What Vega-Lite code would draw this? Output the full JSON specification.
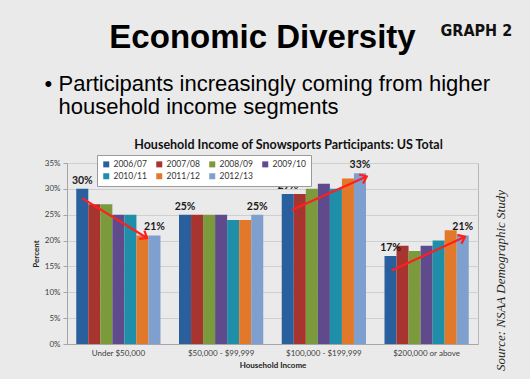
{
  "$schema": "https://vega.github.io/schema/vega-lite/v6.json",
  "width": 411,
  "height": 181,
  "autosize": {"type": "none"},
  "padding": {"left": 67, "top": 163, "right": 52, "bottom": 35},
  "background": "#eaeaea",
  "config": {"view": {"stroke": "#b8b8b8", "strokeWidth": 1}, "font": "Lato"},
  "datasets": {
    "income": [
      {"income": "Under $50,000", "year": "2006/07", "pct": 30},
      {"income": "Under $50,000", "year": "2007/08", "pct": 27},
      {"income": "Under $50,000", "year": "2008/09", "pct": 27},
      {"income": "Under $50,000", "year": "2009/10", "pct": 25},
      {"income": "Under $50,000", "year": "2010/11", "pct": 25},
      {"income": "Under $50,000", "year": "2011/12", "pct": 21},
      {"income": "Under $50,000", "year": "2012/13", "pct": 21},
      {"income": "$50,000 - $99,999", "year": "2006/07", "pct": 25},
      {"income": "$50,000 - $99,999", "year": "2007/08", "pct": 25},
      {"income": "$50,000 - $99,999", "year": "2008/09", "pct": 25},
      {"income": "$50,000 - $99,999", "year": "2009/10", "pct": 25},
      {"income": "$50,000 - $99,999", "year": "2010/11", "pct": 24},
      {"income": "$50,000 - $99,999", "year": "2011/12", "pct": 24},
      {"income": "$50,000 - $99,999", "year": "2012/13", "pct": 25},
      {"income": "$100,000 - $199,999", "year": "2006/07", "pct": 29},
      {"income": "$100,000 - $199,999", "year": "2007/08", "pct": 29},
      {"income": "$100,000 - $199,999", "year": "2008/09", "pct": 30},
      {"income": "$100,000 - $199,999", "year": "2009/10", "pct": 31},
      {"income": "$100,000 - $199,999", "year": "2010/11", "pct": 30},
      {"income": "$100,000 - $199,999", "year": "2011/12", "pct": 32},
      {"income": "$100,000 - $199,999", "year": "2012/13", "pct": 33},
      {"income": "$200,000 or above", "year": "2006/07", "pct": 17},
      {"income": "$200,000 or above", "year": "2007/08", "pct": 19},
      {"income": "$200,000 or above", "year": "2008/09", "pct": 18},
      {"income": "$200,000 or above", "year": "2009/10", "pct": 19},
      {"income": "$200,000 or above", "year": "2010/11", "pct": 20},
      {"income": "$200,000 or above", "year": "2011/12", "pct": 22},
      {"income": "$200,000 or above", "year": "2012/13", "pct": 21}
    ],
    "labels": [
      {"income": "Under $50,000", "year": "2006/07", "pct": 30, "label": "30%"},
      {"income": "Under $50,000", "year": "2012/13", "pct": 21, "label": "21%"},
      {"income": "$50,000 - $99,999", "year": "2006/07", "pct": 25, "label": "25%"},
      {"income": "$50,000 - $99,999", "year": "2012/13", "pct": 25, "label": "25%"},
      {"income": "$100,000 - $199,999", "year": "2006/07", "pct": 29, "label": "29%"},
      {"income": "$100,000 - $199,999", "year": "2012/13", "pct": 33, "label": "33%"},
      {"income": "$200,000 or above", "year": "2006/07", "pct": 17, "label": "17%"},
      {"income": "$200,000 or above", "year": "2012/13", "pct": 21, "label": "21%"}
    ],
    "arrows": [
      {"x": 0.146, "y": 28.2, "x2": 0.779, "y2": 20.5, "heading": 121.6},
      {"x": 2.187, "y": 25.9, "x2": 2.917, "y2": 32.4, "heading": 66},
      {"x": 3.16, "y": 14.2, "x2": 3.873, "y2": 20.75, "heading": 65}
    ]
  },
  "layer": [
    {
      "data": {"name": "income"},
      "mark": {"type": "bar"},
      "encoding": {
        "x": {
          "field": "income", "type": "nominal",
          "sort": ["Under $50,000", "$50,000 - $99,999", "$100,000 - $199,999", "$200,000 or above"],
          "scale": {"paddingInner": 0.18, "paddingOuter": 0.09},
          "axis": {
            "orient": "bottom", "labelAngle": 0, "labelFontSize": 8, "labelColor": "#404040", "labelPadding": 5,
            "ticks": false, "domainColor": "#a6a6a6",
            "title": "Household Income", "titleFontSize": 8, "titleFontWeight": "bold", "titleColor": "#222", "titlePadding": 4
          }
        },
        "xOffset": {"field": "year", "type": "nominal", "scale": {"domain": ["2006/07", "2007/08", "2008/09", "2009/10", "2010/11", "2011/12", "2012/13"]}},
        "y": {
          "field": "pct", "type": "quantitative",
          "scale": {"domain": [0, 35], "nice": false},
          "axis": {
            "orient": "left", "values": [0, 5, 10, 15, 20, 25, 30, 35], "labelExpr": "datum.value + '%'",
            "labelFontSize": 8, "labelColor": "#404040", "labelPadding": 3, "tickSize": 4, "tickColor": "#a6a6a6",
            "domainColor": "#a6a6a6", "gridColor": "#cfcfcf",
            "title": "Percent", "titleFontSize": 8, "titleFontWeight": "bold", "titleColor": "#222", "titlePadding": 4
          }
        },
        "color": {
          "field": "year", "type": "nominal",
          "scale": {
            "domain": ["2006/07", "2007/08", "2008/09", "2009/10", "2010/11", "2011/12", "2012/13"],
            "range": ["#2a5f9e", "#a8342f", "#7b9a3c", "#5f4a8b", "#1f8ea8", "#e2792a", "#7f9fcf"]
          },
          "legend": {
            "title": null, "orient": "none", "legendX": 30, "legendY": -8, "direction": "horizontal", "columns": 4,
            "symbolType": "square", "symbolSize": 36, "labelFontSize": 8.5, "labelColor": "#333",
            "fillColor": "#ffffff", "strokeColor": "#9a9a9a", "padding": 5, "columnPadding": 8, "rowPadding": 3, "labelOffset": 3
          }
        }
      }
    },
    {
      "data": {"name": "labels"},
      "mark": {"type": "text", "fontWeight": "bold", "fontSize": 10.5, "baseline": "bottom", "dy": -3, "color": "#1a1a1a"},
      "encoding": {
        "x": {
          "field": "income", "type": "nominal",
          "sort": ["Under $50,000", "$50,000 - $99,999", "$100,000 - $199,999", "$200,000 or above"],
          "scale": {"domain": ["Under $50,000", "$50,000 - $99,999", "$100,000 - $199,999", "$200,000 or above"], "paddingInner": 0.18, "paddingOuter": 0.09},
          "axis": {
            "orient": "top", "labels": false, "ticks": false, "domain": false, "grid": false,
            "title": "Economic Diversity", "titleFont": "Liberation Sans", "titleFontSize": 33, "titleFontWeight": "bold",
            "titleColor": "#000000", "titleX": 195, "titleY": -116, "titleAlign": "center", "titleBaseline": "alphabetic", "titleLimit": 1000
          }
        },
        "xOffset": {"field": "year", "type": "nominal", "scale": {"domain": ["2006/07", "2007/08", "2008/09", "2009/10", "2010/11", "2011/12", "2012/13"]}},
        "y": {
          "field": "pct", "type": "quantitative",
          "scale": {"domain": [0, 35], "nice": false},
          "axis": {
            "orient": "right", "labels": false, "ticks": false, "domain": false, "grid": false,
            "title": "GRAPH 2", "titleAngle": 0, "titleX": -38, "titleY": -128, "titleAlign": "left", "titleBaseline": "alphabetic",
            "titleFont": "DejaVu Sans Condensed", "titleFontSize": 16, "titleFontWeight": "bold", "titleColor": "#111111", "titleLimit": 1000
          }
        },
        "text": {"field": "label", "type": "nominal"}
      }
    },
    {
      "data": {"name": "arrows"},
      "mark": {"type": "rule", "color": "#ff1f1f", "strokeWidth": 2.2},
      "encoding": {
        "x": {
          "field": "x", "type": "quantitative", "scale": {"domain": [0, 4], "nice": false, "zero": false},
          "axis": {
            "orient": "top", "labels": false, "ticks": false, "domain": false, "grid": false,
            "title": "Household Income of Snowsports Participants: US Total", "titleFont": "Lato", "titleFontSize": 12.5,
            "titleFontWeight": "bold", "titleColor": "#111111", "titleX": 221, "titleY": -15, "titleAlign": "center",
            "titleBaseline": "alphabetic", "titleLimit": 1000
          }
        },
        "x2": {"field": "x2"},
        "y": {
          "field": "y", "type": "quantitative", "scale": {"domain": [0, 35], "nice": false},
          "axis": {
            "orient": "right", "labels": false, "ticks": false, "domain": false, "grid": false,
            "title": "Source: NSAA Demographic Study", "titleFont": "Liberation Serif", "titleFontStyle": "italic",
            "titleFontWeight": "normal", "titleFontSize": 13, "titleColor": "#222222", "titleAngle": 270,
            "titleX": 22, "titleY": 117, "titleAlign": "center", "titleBaseline": "middle", "titleLimit": 1000
          }
        },
        "y2": {"field": "y2"}
      }
    },
    {
      "data": {"name": "arrows"},
      "mark": {"type": "point", "shape": "M -0.8 1 L 0 0 L 0.8 1", "filled": false, "color": "#ff1f1f", "strokeWidth": 2.2, "size": 150, "opacity": 1},
      "encoding": {
        "x": {
          "field": "x2", "type": "quantitative", "scale": {"domain": [0, 4], "nice": false, "zero": false},
          "axis": {
            "orient": "top", "labels": false, "ticks": false, "domain": false, "grid": false,
            "title": ["Participants increasingly coming from higher", "household income segments"],
            "titleFont": "Liberation Sans", "titleFontSize": 22, "titleFontWeight": "normal", "titleColor": "#000000",
            "titleX": -9, "titleY": -73, "titleAlign": "left", "titleBaseline": "alphabetic", "titleLineHeight": 23, "titleLimit": 1000
          }
        },
        "y": {
          "field": "y2", "type": "quantitative", "scale": {"domain": [0, 35], "nice": false},
          "axis": {
            "orient": "left", "labels": false, "ticks": false, "domain": false, "grid": false,
            "title": "•", "titleAngle": 0, "titleX": -23, "titleY": -73, "titleAlign": "left", "titleBaseline": "alphabetic",
            "titleFont": "Liberation Sans", "titleFontSize": 22, "titleFontWeight": "normal", "titleColor": "#000000"
          }
        },
        "angle": {"field": "heading", "type": "quantitative", "scale": null}
      }
    }
  ],
  "resolve": {
    "scale": {"x": "independent", "y": "independent", "xOffset": "independent"},
    "axis": {"x": "independent", "y": "independent"}
  }
}
